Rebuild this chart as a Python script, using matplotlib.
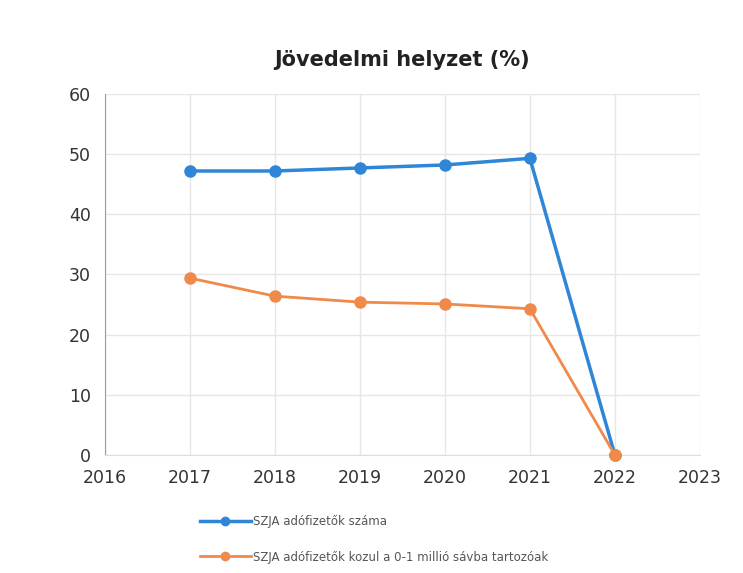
import matplotlib.pyplot as plt

years = [2017, 2018, 2019, 2020, 2021, 2022]
szja_total = [47.2, 47.2, 47.7, 48.2, 49.3, 0]
szja_0_1 = [29.4, 26.4, 25.4, 25.1, 24.3, 0]
xticks = [2016, 2017, 2018, 2019, 2020, 2021, 2022, 2023]
yticks = [0, 10, 20, 30, 40, 50, 60]

fig = plt.figure(figsize=(7.43, 5.73), dpi=100)
ax = fig.add_axes([0.141, 0.206, 0.801, 0.630])

blue = "#2f86d6"
orange = "#f08a4b"
ax.plot(years, szja_total, color=blue, lw=2.5, marker="o", ms=8,
        label="SZJA adófizetők száma", zorder=3, clip_on=False)
ax.plot(years, szja_0_1, color=orange, lw=2, marker="o", ms=8,
        label="SZJA adófizetők kozul a 0-1 millió sávba tartozóak", zorder=4,
        clip_on=False)

ax.set_xlim(2016, 2023)
ax.set_ylim(0, 60)
ax.set_xticks(xticks)
ax.set_yticks(yticks)
ax.tick_params(length=0, labelsize=12.5, colors="#333333", pad=10)
ax.grid(True, color="#e6e6e6", lw=1)
ax.set_axisbelow(True)
for s in ["top", "right"]:
    ax.spines[s].set_visible(False)
ax.spines["left"].set_color("#9a98b8")
ax.spines["bottom"].set_color("#dddddd")

ax.set_title("Jövedelmi helyzet (%)", fontsize=15, fontweight="bold",
             color="#222222", pad=20)

leg = fig.legend(loc="upper left", bbox_to_anchor=(0.255, 0.12), frameon=False,
                 fontsize=8.5, labelcolor="#555555", handlelength=4.3,
                 handletextpad=0.2, labelspacing=1.9, markerscale=0.75)

fig.savefig("out.png")
